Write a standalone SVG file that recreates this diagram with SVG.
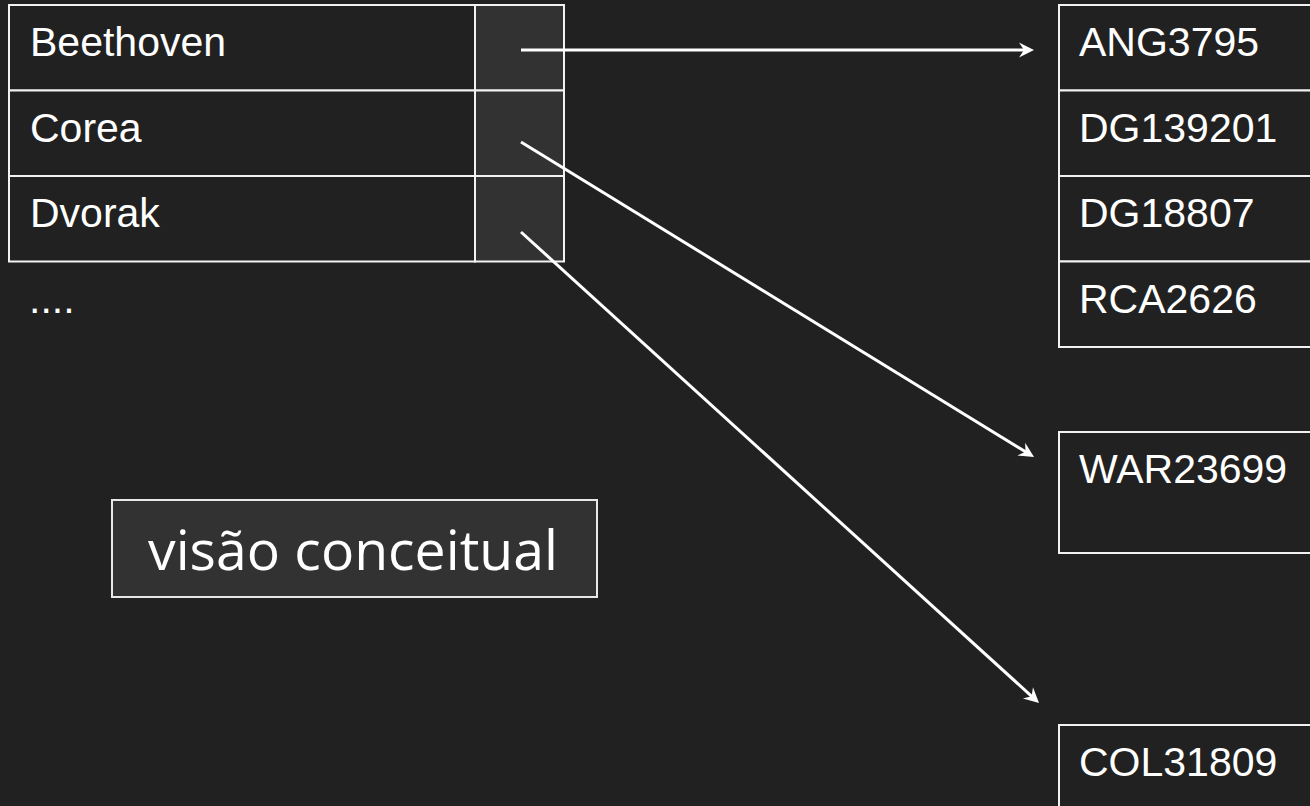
<svg xmlns="http://www.w3.org/2000/svg" width="1310" height="806" viewBox="0 0 1310 806">
  <style>
    .bg { fill: #212121; }
    .cell { fill: #212121; stroke: #f2f2f2; stroke-width: 2; }
    .ptr { fill: #323232; stroke: #f2f2f2; stroke-width: 2; }
    .lbl { font-family: "Liberation Sans", Arial, sans-serif; font-size: 41px; fill: #ffffff; }
    .title-box { fill: #323232; stroke: #e8e8e8; stroke-width: 2; }
    .title { font-family: "Open Sans", "Noto Sans", sans-serif; font-size: 55px; fill: #ffffff; }
    .link { stroke: #ffffff; stroke-width: 3; fill: none; marker-end: url(#head); }
  </style>
  <defs>
    <marker id="head" markerUnits="userSpaceOnUse" markerWidth="20" markerHeight="20" refX="0" refY="0" orient="auto" overflow="visible">
      <path d="M8,0 L-7,-7.5 L-2,0 L-7,7.5 Z" fill="#ffffff"/>
    </marker>
  </defs>

  <rect class="bg" x="0" y="0" width="1310" height="806"/>

  <!-- index table: composer name + pointer cell -->
  <g id="row-beethoven">
    <rect class="cell" x="9" y="5" width="466" height="85.5"/>
    <rect class="ptr" x="475" y="5" width="89" height="85.5"/>
    <text class="lbl" x="30" y="56">Beethoven</text>
  </g>
  <g id="row-corea">
    <rect class="cell" x="9" y="90.5" width="466" height="85.5"/>
    <rect class="ptr" x="475" y="90.5" width="89" height="85.5"/>
    <text class="lbl" x="30" y="141.5">Corea</text>
  </g>
  <g id="row-dvorak">
    <rect class="cell" x="9" y="176" width="466" height="85.5"/>
    <rect class="ptr" x="475" y="176" width="89" height="85.5"/>
    <text class="lbl" x="30" y="227">Dvorak</text>
  </g>
  <g id="more-rows">
    <text class="lbl" x="29" y="313">....</text>
  </g>

  <!-- record lists -->
  <g id="list-beethoven">
    <rect class="cell" x="1059" y="5" width="280" height="85.5"/>
    <rect class="cell" x="1059" y="90.5" width="280" height="85.5"/>
    <rect class="cell" x="1059" y="176" width="280" height="85.5"/>
    <rect class="cell" x="1059" y="261.5" width="280" height="85.5"/>
    <text class="lbl" x="1079" y="56">ANG3795</text>
    <text class="lbl" x="1079" y="141.5">DG139201</text>
    <text class="lbl" x="1079" y="227">DG18807</text>
    <text class="lbl" x="1079" y="312.5">RCA2626</text>
  </g>
  <g id="list-corea">
    <rect class="cell" x="1059" y="432" width="280" height="121"/>
    <text class="lbl" x="1079" y="483">WAR23699</text>
  </g>
  <g id="list-dvorak">
    <rect class="cell" x="1059" y="725" width="280" height="121"/>
    <text class="lbl" x="1079" y="776">COL31809</text>
  </g>

  <g id="caption">
    <rect class="title-box" x="112" y="500" width="485" height="97"/>
    <text class="title" x="148" y="570" textLength="410" lengthAdjust="spacingAndGlyphs">visão conceitual</text>
  </g>

  <!-- pointers from index cells to record lists -->
  <g id="connectors">
    <line class="link" x1="521" y1="50" x2="1026" y2="50"/>
    <line class="link" x1="521" y1="142" x2="1027.2" y2="452.8"/>
    <line class="link" x1="521" y1="232" x2="1033.1" y2="697.6"/>
  </g>
</svg>
